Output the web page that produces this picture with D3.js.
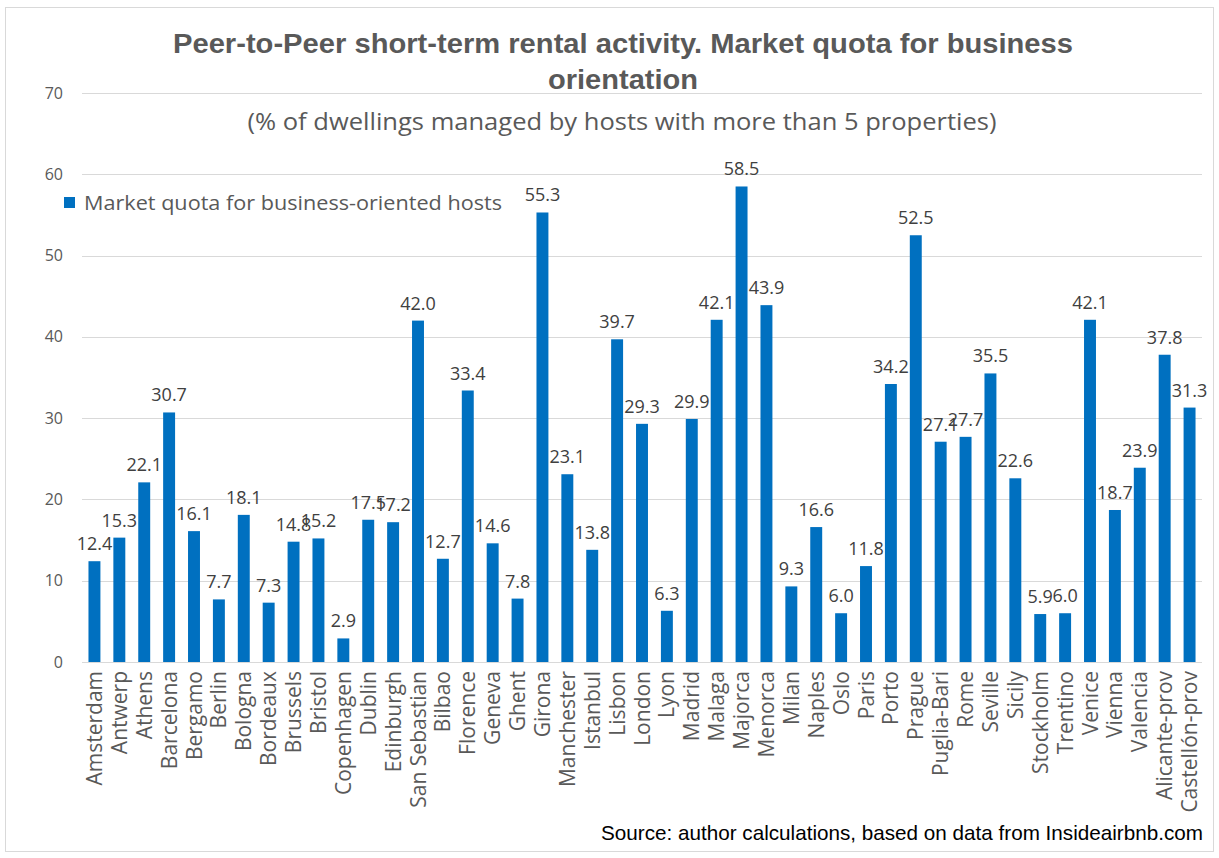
<!DOCTYPE html>
<html>
<head>
<meta charset="utf-8">
<script src="https://cdn.jsdelivr.net/npm/d3@7"></script>
<style>
  body { margin: 0; background: #fff; }
  svg { display: block; }
</style>
</head>
<body>
<div class="chart"></div>
<script>
var w = 1219;
var h = 858;
var margin = {top: 93, right: 17, bottom: 196, left: 82};

var cities = ["Amsterdam", "Antwerp", "Athens", "Barcelona", "Bergamo", "Berlin", "Bologna", "Bordeaux",
  "Brussels", "Bristol", "Copenhagen", "Dublin", "Edinburgh", "San Sebastian", "Bilbao", "Florence",
  "Geneva", "Ghent", "Girona", "Manchester", "Istanbul", "Lisbon", "London", "Lyon", "Madrid", "Malaga",
  "Majorca", "Menorca", "Milan", "Naples", "Oslo", "Paris", "Porto", "Prague", "Puglia-Bari", "Rome",
  "Seville", "Sicily", "Stockholm", "Trentino", "Venice", "Vienna", "Valencia", "Alicante-prov", "Castellón-prov"];
var quota = [12.4, 15.3, 22.1, 30.7, 16.1, 7.7, 18.1, 7.3,
  14.8, 15.2, 2.9, 17.5, 17.2, 42.0, 12.7, 33.4,
  14.6, 7.8, 55.3, 23.1, 13.8, 39.7, 29.3, 6.3, 29.9, 42.1,
  58.5, 43.9, 9.3, 16.6, 6.0, 11.8, 34.2, 52.5, 27.1, 27.7,
  35.5, 22.6, 5.9, 6.0, 42.1, 18.7, 23.9, 37.8, 31.3];
var yTicks = [0, 10, 20, 30, 40, 50, 60, 70];
var seriesName = "Market quota for business-oriented hosts";

var barColor = "#0070c0";
var textColor = "#595959";

var svg = d3.select(".chart")
            .append("svg")
            .attr("width", w)
            .attr("height", h);

// chart frame
svg.append("rect")
   .attr("x", 5.5).attr("y", 7.5)
   .attr("width", w - 11).attr("height", h - 14)
   .attr("fill", "none")
   .attr("stroke", "#d9d9d9");

// scales
var xScale = d3.scaleBand()
    .domain(cities)
    .range([margin.left, w - margin.right])
    .paddingInner(0.52)
    .paddingOuter(0.26);

var yScale = d3.scaleLinear()
    .domain([0, 70])
    .range([h - margin.bottom, margin.top]);

// gridlines
svg.selectAll(".grid")
   .data(yTicks)
   .enter()
   .append("line")
   .attr("x1", margin.left)
   .attr("x2", w - margin.right)
   .attr("y1", (d) => Math.round(yScale(d)) + 0.5)
   .attr("y2", (d) => Math.round(yScale(d)) + 0.5)
   .attr("stroke", "#d9d9d9")
   .attr("stroke-width", 1);

// y axis labels
var yAxis = svg.append("g")
   .attr("transform", "translate(" + (margin.left - 19) + ",0)")
   .call(d3.axisLeft(yScale).tickValues(yTicks).tickSize(0).tickPadding(0));
yAxis.select(".domain").remove();
yAxis.selectAll("text")
   .attr("fill", textColor)
   .style("font-family", "'Open Sans', sans-serif")
   .style("font-size", "16px");

// title
svg.append("text")
   .attr("x", 623).attr("y", 53)
   .attr("text-anchor", "middle")
   .attr("textLength", 900)
   .attr("lengthAdjust", "spacingAndGlyphs")
   .attr("fill", textColor)
   .style("font-family", "'Liberation Sans Narrow', 'Liberation Sans', sans-serif")
   .style("font-weight", "bold")
   .style("font-size", "27px")
   .text("Peer-to-Peer short-term rental activity. Market quota for business");

svg.append("text")
   .attr("x", 623).attr("y", 89)
   .attr("text-anchor", "middle")
   .attr("textLength", 150)
   .attr("lengthAdjust", "spacingAndGlyphs")
   .attr("fill", textColor)
   .style("font-family", "'Liberation Sans Narrow', 'Liberation Sans', sans-serif")
   .style("font-weight", "bold")
   .style("font-size", "27px")
   .text("orientation");

svg.append("text")
   .attr("x", 622).attr("y", 130)
   .attr("text-anchor", "middle")
   .attr("textLength", 749)
   .attr("lengthAdjust", "spacingAndGlyphs")
   .attr("fill", textColor)
   .style("font-family", "'Open Sans', sans-serif")
   .style("font-size", "23px")
   .text("(% of dwellings managed by hosts with more than 5 properties)");

// legend
svg.append("rect")
   .attr("x", 64).attr("y", 197)
   .attr("width", 11).attr("height", 11)
   .attr("fill", barColor);

svg.append("text")
   .attr("x", 84).attr("y", 210)
   .attr("fill", textColor)
   .attr("textLength", 418)
   .attr("lengthAdjust", "spacingAndGlyphs")
   .style("font-family", "'Open Sans', sans-serif")
   .style("font-size", "20px")
   .text(seriesName);

// bars
var data = cities.map((c, i) => ({city: c, value: quota[i]}));

svg.selectAll(".bar")
   .data(data)
   .enter()
   .append("rect")
   .attr("class", "bar")
   .attr("x", (d) => xScale(d.city))
   .attr("y", (d) => yScale(d.value))
   .attr("width", xScale.bandwidth())
   .attr("height", (d) => yScale(0) - yScale(d.value))
   .attr("fill", barColor);

// value labels (neighbouring ones overlap in the original too)
svg.selectAll(".valueLabel")
   .data(data)
   .enter()
   .append("text")
   .attr("class", "valueLabel")
   .attr("x", (d) => xScale(d.city) + xScale.bandwidth() / 2)
   .attr("y", (d) => yScale(d.value) - 11)
   .attr("text-anchor", "middle")
   .attr("fill", "#404040")
   .style("font-family", "'Open Sans', sans-serif")
   .style("font-size", "18px")
   .text((d) => d.value.toFixed(1));

// x axis labels
var xAxis = svg.append("g")
   .attr("transform", "translate(0," + (h - margin.bottom) + ")")
   .call(d3.axisBottom(xScale).tickSize(0).tickPadding(0));
xAxis.select(".domain").remove();
xAxis.selectAll("text")
   .attr("fill", textColor)
   .attr("transform", "rotate(-90)")
   .attr("text-anchor", "end")
   .attr("x", -9)
   .attr("y", 0)
   .attr("dy", "0.36em")
   .style("font-family", "'Open Sans', sans-serif")
   .style("font-size", "21px");

// source note
svg.append("text")
   .attr("x", 1203).attr("y", 840)
   .attr("text-anchor", "end")
   .attr("textLength", 602)
   .attr("lengthAdjust", "spacingAndGlyphs")
   .attr("fill", "#000")
   .style("font-family", "'Liberation Sans Narrow', 'Liberation Sans', sans-serif")
   .style("font-size", "21px")
   .text("Source: author calculations, based on data from Insideairbnb.com");
</script>
</body>
</html>
